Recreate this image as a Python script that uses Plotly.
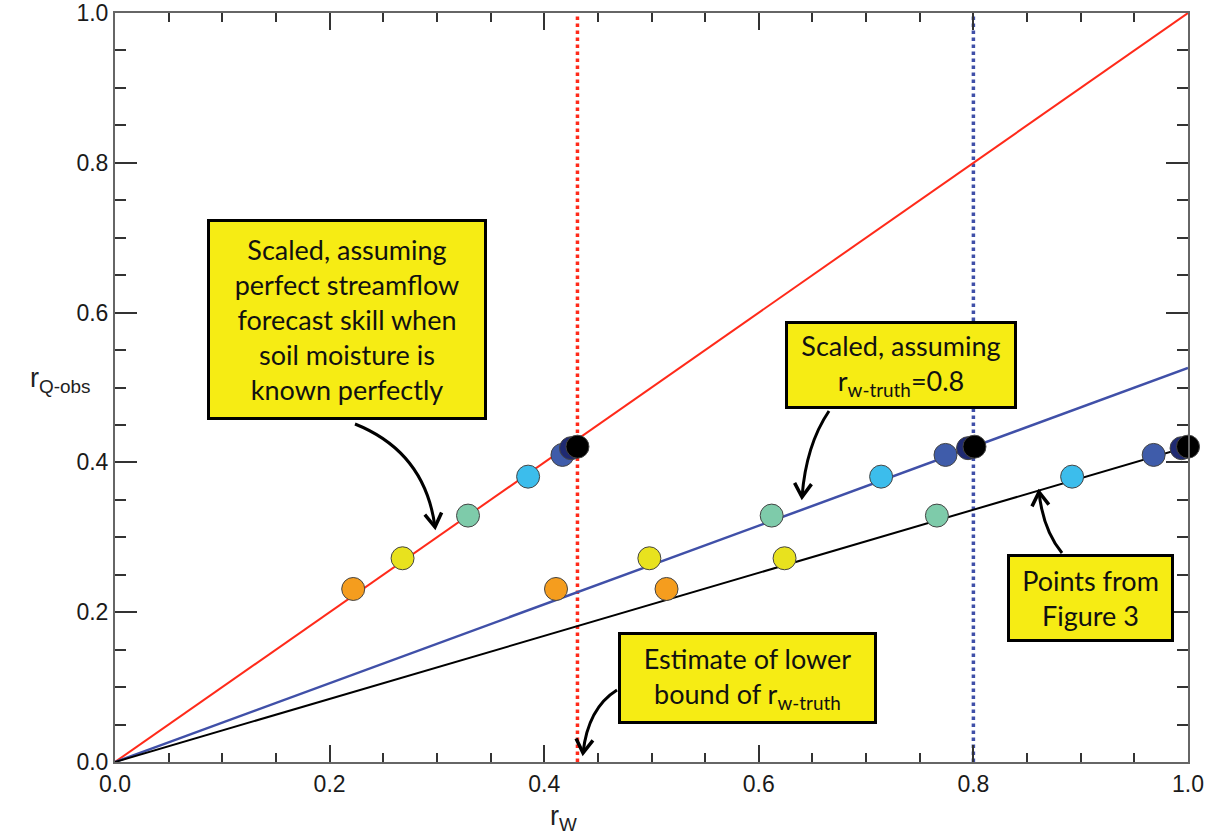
import math
import plotly.graph_objects as go

# ---------------- data ----------------
r_q_obs = [0.231, 0.272, 0.329, 0.381, 0.410, 0.419, 0.421]
rw_perfect = [0.222, 0.268, 0.329, 0.385, 0.417, 0.425, 0.431]   # on red line
rw_truth08 = [0.411, 0.498, 0.612, 0.714, 0.774, 0.795, 0.801]    # on blue line
rw_fig3 = [0.514, 0.624, 0.766, 0.892, 0.968, 0.994, 1.000]       # on black line
point_colors = ["#F59D1E", "#E8E21E", "#7ECBAA", "#3CBDEC", "#3F5CAA", "#1F2A72", "#000000"]

line_x = [0.0, 1.0]
red_line_y = [0.0, 1.0]
blue_line_y = [0.0, 0.526]
black_line_y = [0.0, 0.421]

lower_bound_rw = 0.431
assumed_rw_truth = 0.8

# ---------------- layout helpers (reference pixel -> paper) ----------------
X0, X1, Y0, Y1 = 115, 1188, 762, 13
def px(x):
    return (x - X0) / (X1 - X0)
def py(y):
    return (Y0 - y) / (Y0 - Y1)

fig = go.Figure()

# vertical dotted lines
fig.add_trace(go.Scatter(x=[lower_bound_rw, lower_bound_rw], y=[0, 1], mode="lines",
                         line=dict(color="#FF2A1A", width=3.5, dash="dot"), showlegend=False, hoverinfo="skip"))
fig.add_trace(go.Scatter(x=[assumed_rw_truth, assumed_rw_truth], y=[0, 1], mode="lines",
                         line=dict(color="#3F4FA8", width=3.5, dash="dot"), showlegend=False, hoverinfo="skip"))

# scaling lines
fig.add_trace(go.Scatter(x=line_x, y=red_line_y, mode="lines", line=dict(color="#FF2A1A", width=2),
                         showlegend=False, cliponaxis=False))
fig.add_trace(go.Scatter(x=line_x, y=blue_line_y, mode="lines", line=dict(color="#4050A8", width=2.5),
                         showlegend=False, cliponaxis=False))
fig.add_trace(go.Scatter(x=line_x, y=black_line_y, mode="lines", line=dict(color="#000000", width=2),
                         showlegend=False, cliponaxis=False))

# points
for xs in (rw_perfect, rw_truth08, rw_fig3):
    fig.add_trace(go.Scatter(x=xs, y=r_q_obs, mode="markers", showlegend=False, cliponaxis=False,
                             marker=dict(size=23, color=point_colors,
                                         line=dict(color="#444444", width=1))))

# ---------------- annotation boxes ----------------
box_font = dict(family="Lato, Open Sans, sans-serif", size=27, color="#111111")
boxes = [
    # (cx, cy, w, h, text)
    (347, 319.5, 280, 201, "Scaled, assuming<br>perfect streamflow<br>forecast skill when<br>soil moisture is<br>known perfectly"),
    (901, 365, 232, 88, "Scaled, assuming<br>r<sub>w-truth</sub>=0.8"),
    (747.5, 678, 259, 92, "Estimate of lower<br>bound of r<sub>w-truth</sub>"),
    (1090.5, 598, 167, 88, "Points from<br>Figure 3"),
]
annotations = []
for cx, cy, w, h, t in boxes:
    annotations.append(dict(x=px(cx), y=py(cy), xref="paper", yref="paper", text=t, showarrow=False,
                             xanchor="center", yanchor="middle", align="center",
                             width=w - 14, height=h - 14, valign="middle",
                             bgcolor="#F6EC14", bordercolor="#000000", borderwidth=3, borderpad=4,
                             font=box_font))

# curved arrows with open chevron heads: (start, control, tip)
arrows = [
    ((355, 424), (425, 452), (435, 527)),
    ((829, 411), (806, 445), (802, 497)),
    ((617, 690), (588, 708), (583, 753)),
    ((1062, 553), (1043, 530), (1039, 492)),
]
head_len, head_ang = 16, math.radians(32)
shapes = []
for (sx, sy), (cx, cy), (ex, ey) in arrows:
    shapes.append(dict(type="path", xref="paper", yref="paper",
                       path=f"M {px(sx)},{py(sy)} Q {px(cx)},{py(cy)} {px(ex)},{py(ey)}",
                       line=dict(color="#000000", width=3)))
    dx, dy = ex - cx, ey - cy
    n = math.hypot(dx, dy)
    bx, by = -dx / n, -dy / n
    pts = []
    for s in (1, -1):
        c, si = math.cos(s * head_ang), math.sin(s * head_ang)
        hx = ex + head_len * (bx * c - by * si)
        hy = ey + head_len * (bx * si + by * c)
        pts.append((hx, hy))
    shapes.append(dict(type="path", xref="paper", yref="paper",
                       path=f"M {px(pts[0][0])},{py(pts[0][1])} L {px(ex)},{py(ey)} L {px(pts[1][0])},{py(pts[1][1])}",
                       line=dict(color="#000000", width=3.5)))

# axis titles
annotations.append(dict(x=px(563), y=py(818), xref="paper", yref="paper", showarrow=False,
                        text="r<sub>W</sub>", font=dict(family="Liberation Sans, Arial", size=27, color="#222222"),
                        xanchor="center", yanchor="middle"))
annotations.append(dict(x=px(60), y=py(380), xref="paper", yref="paper", showarrow=False,
                        text="r<sub>Q-obs</sub>", font=dict(family="Liberation Sans, Arial", size=27, color="#222222"),
                        xanchor="center", yanchor="middle"))

axis_common = dict(range=[0, 1], showgrid=False, zeroline=False, showline=True, linecolor="#666666",
                   linewidth=2, mirror="allticks", ticks="inside", tickcolor="#333333", tickwidth=1.5,
                   dtick=0.2, tick0=0, tickformat=".1f", automargin=False,
                   tickfont=dict(family="Liberation Sans, Arial", size=23, color="#1a1a1a"))
fig.update_xaxes(**axis_common, ticklen=17,
                 minor=dict(ticks="inside", ticklen=9, dtick=0.05, tickcolor="#333333", tickwidth=1.5, showgrid=False))
fig.update_yaxes(**axis_common, ticklen=22,
                 minor=dict(ticks="inside", ticklen=11, dtick=0.05, tickcolor="#333333", tickwidth=1.5, showgrid=False))

fig.update_layout(width=1212, height=839, plot_bgcolor="white", paper_bgcolor="white",
                  margin=dict(l=X0, r=1212 - X1, t=Y1, b=839 - Y0, autoexpand=False),
                  annotations=annotations, shapes=shapes, showlegend=False)

fig.write_html("out.html", config={"displayModeBar": False},
               post_script="document.body.style.margin='0';document.body.style.overflow='hidden';")
